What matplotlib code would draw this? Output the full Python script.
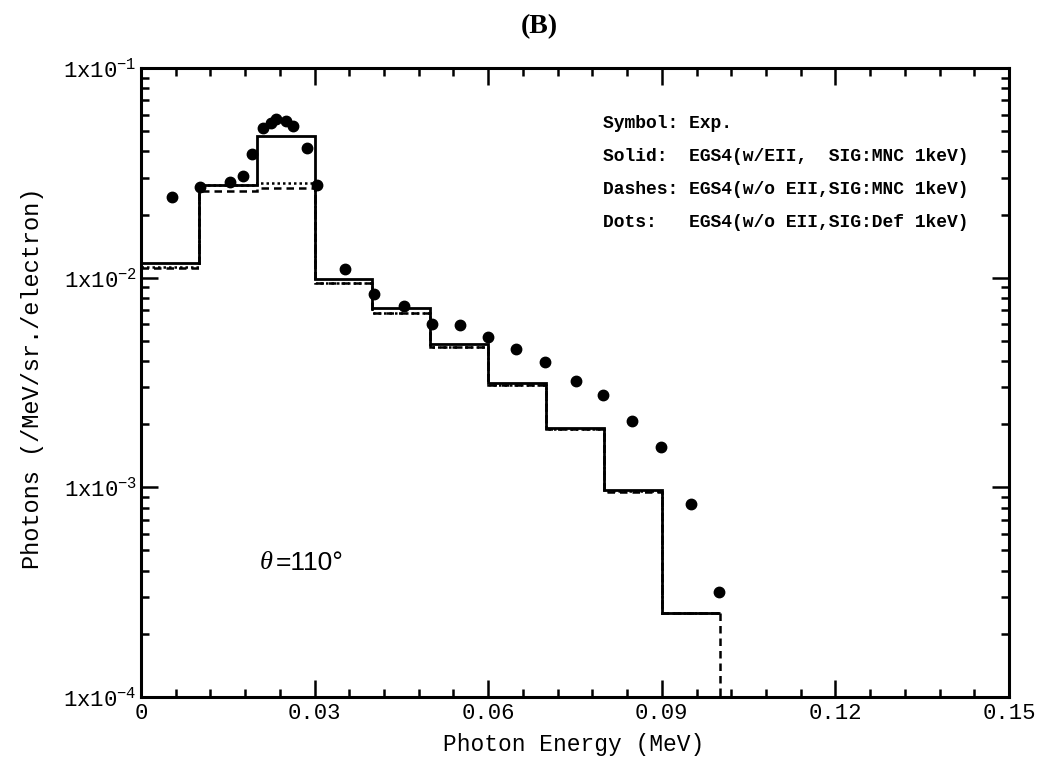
import numpy as np
import matplotlib
matplotlib.use("Agg")
import matplotlib.pyplot as plt
from matplotlib.ticker import MultipleLocator, LogLocator, FuncFormatter, NullFormatter

plt.rcParams['font.family'] = ['Liberation Mono', 'DejaVu Sans']
plt.rcParams['mathtext.fontset'] = 'custom'
plt.rcParams['mathtext.rm'] = 'Liberation Mono'
plt.rcParams['mathtext.it'] = 'Liberation Serif:italic'
plt.rcParams['mathtext.default'] = 'regular'

# ---- data ----
bin_edges = [0.0, 0.01, 0.02, 0.03, 0.04, 0.05, 0.06, 0.07, 0.08, 0.09, 0.10]
solid_eii_mnc = [0.0118, 0.0277, 0.0473, 0.00985, 0.00714, 0.00481, 0.00315, 0.00192, 0.00097, 0.000252]
dashes_noeii_mnc = [0.01107, 0.0260, 0.0267, 0.00939, 0.0068, 0.00465, 0.00307, 0.00189, 0.00095, 0.000252]
dots_noeii_def = [0.0112, 0.0278, 0.0282, 0.0094, 0.0068, 0.00466, 0.00308, 0.0019, 0.00096, 0.000252]

exp_energy = [0.0053, 0.0102, 0.0153, 0.0176, 0.0192, 0.0211, 0.0224, 0.0233, 0.0250, 0.0262,
              0.0287, 0.0305, 0.0352, 0.0402, 0.0455, 0.0503, 0.0552, 0.0599, 0.0648, 0.0698,
              0.0751, 0.0798, 0.0848, 0.0898, 0.0950, 0.0998]
exp_photons = [0.0242, 0.0270, 0.0287, 0.0306, 0.0387, 0.0515, 0.0548, 0.0569, 0.0558, 0.0530,
               0.0415, 0.0277, 0.0110, 0.00832, 0.00732, 0.00599, 0.00594, 0.00523, 0.00455, 0.00394,
               0.00321, 0.00275, 0.00208, 0.00155, 0.00083, 0.000318]

legend_lines = ["Symbol: Exp.",
                "Solid:  EGS4(w/EII,  SIG:MNC 1keV)",
                "Dashes: EGS4(w/o EII,SIG:MNC 1keV)",
                "Dots:   EGS4(w/o EII,SIG:Def 1keV)"]

x_min, x_max = 0.0, 0.15
y_min, y_max = 1e-4, 1e-1

# ---- figure ----
fig = plt.figure(figsize=(10.4, 7.62), dpi=100)
ax = fig.add_axes([141/1040, 1-697/762, 868/1040, 629/762])

ax.stairs(dots_noeii_def, bin_edges, baseline=None, color='k', lw=1.8, linestyle=(0, (1, 1.2)))
ax.stairs(dashes_noeii_mnc, bin_edges, baseline=None, color='k', lw=1.8, linestyle=(0, (3, 2)))
ax.plot([bin_edges[-1], bin_edges[-1]], [dashes_noeii_mnc[-1], y_min], color='k', lw=1.8,
        linestyle=(0, (3, 2)))
ax.stairs(solid_eii_mnc, bin_edges, baseline=None, color='k', lw=2.0)
ax.plot(exp_energy, exp_photons, 'o', color='k', ms=7.5, zorder=5)

ax.set_yscale('log')
ax.set_xlim(x_min, x_max)
ax.set_ylim(y_min, y_max)

ax.xaxis.set_major_locator(MultipleLocator(0.03))
ax.xaxis.set_minor_locator(MultipleLocator(0.006))
ax.xaxis.set_major_formatter(FuncFormatter(lambda v, p: '0' if abs(v) < 1e-9 else f'{v:.2f}'))
ax.yaxis.set_major_locator(LogLocator(base=10, numticks=10))
ax.yaxis.set_minor_locator(LogLocator(base=10, subs=np.arange(2, 10), numticks=20))
ax.yaxis.set_major_formatter(FuncFormatter(lambda v, p: '1x10$^{%d}$' % int(round(np.log10(v)))))
ax.yaxis.set_minor_formatter(NullFormatter())

ax.tick_params(which='both', direction='in', top=True, right=True, width=1.8, labelsize=16)
ax.tick_params(which='major', length=12, pad=4)
ax.tick_params(which='minor', length=6)
ax.tick_params(axis='y', which='major', pad=3)
for s in ax.spines.values():
    s.set_linewidth(2.2)

ax.set_xlabel('Photon Energy (MeV)', fontsize=16.5, va='center')
ax.xaxis.set_label_coords((574-141)/868, (697-745)/629)
ax.set_ylabel('Photons (/MeV/sr./electron)', fontsize=17, va='center')
ax.yaxis.set_label_coords((33-141)/868, (697-378)/629)

ax.text((539-141)/868, (697-27)/629, '(B)', transform=ax.transAxes, ha='center', va='center',
        fontsize=20, fontweight='bold', family='Liberation Serif')

ax.text((260-141)/868, (697-563)/629, 'θ', transform=ax.transAxes, ha='left', va='center',
        fontsize=19, fontstyle='italic', family='Liberation Serif')
ax.text((276-141)/868, (697-563)/629, '=110°', transform=ax.transAxes, ha='left', va='center',
        fontsize=19, family='Liberation Sans')

for i, line in enumerate(legend_lines):
    ax.text((603-141)/868, (697-124-33*i)/629, line, transform=ax.transAxes, ha='left', va='center',
            fontsize=13, fontweight='bold')

fig.savefig('out.png', dpi=100)
